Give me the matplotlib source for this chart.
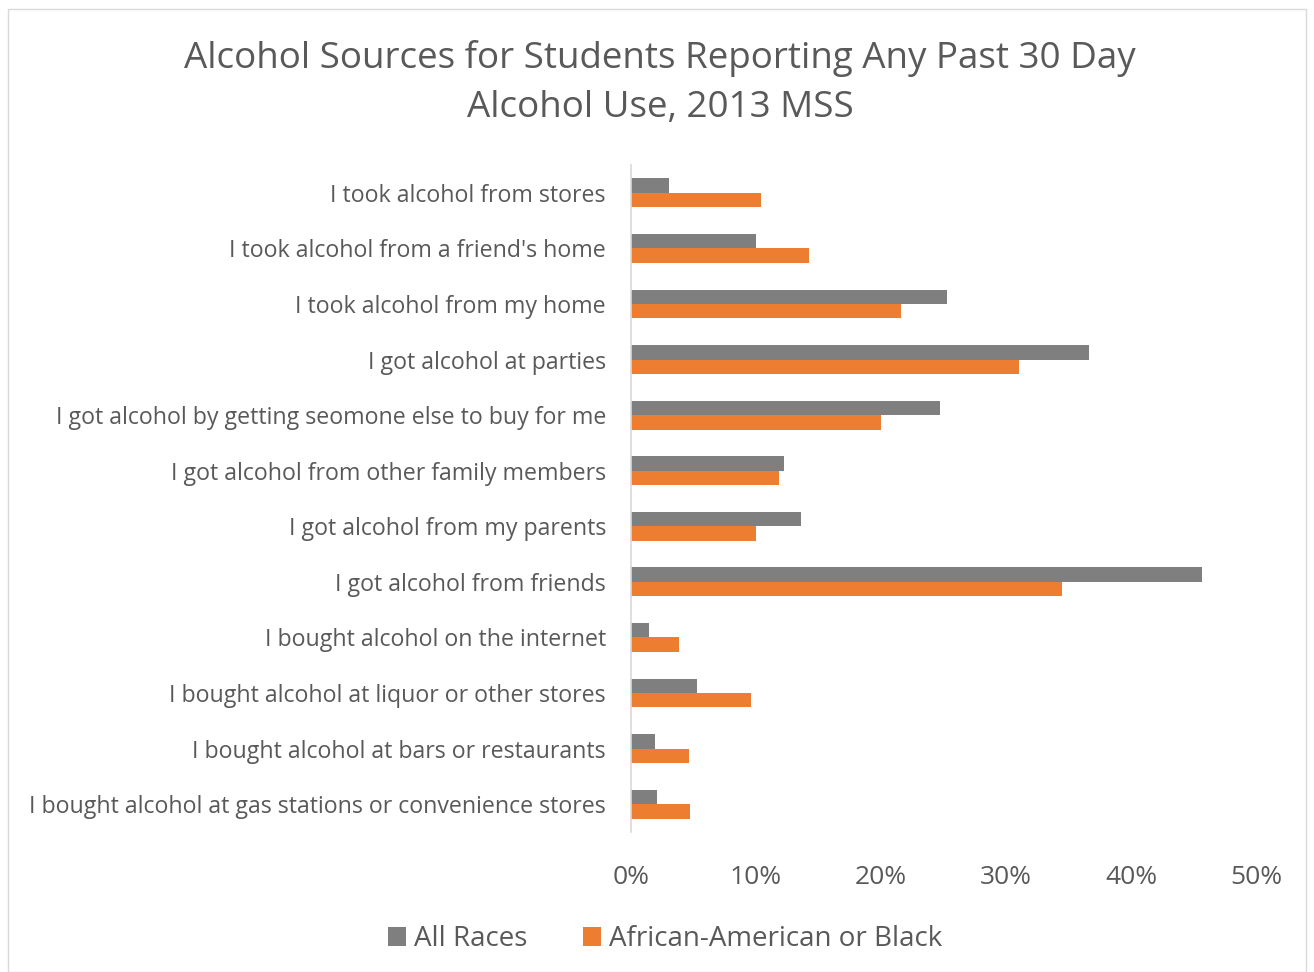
import matplotlib
matplotlib.use("Agg")
import matplotlib.pyplot as plt
import numpy as np
from matplotlib.ticker import FuncFormatter

categories = [
    "I took alcohol from stores",
    "I took alcohol from a friend's home",
    "I took alcohol from my home",
    "I got alcohol at parties",
    "I got alcohol by getting seomone else to buy for me",
    "I got alcohol from other family members",
    "I got alcohol from my parents",
    "I got alcohol from friends",
    "I bought alcohol on the internet",
    "I bought alcohol at liquor or other stores",
    "I bought alcohol at bars or restaurants",
    "I bought alcohol at gas stations or convenience stores",
]
all_races = [3.0, 10.0, 25.3, 36.6, 24.7, 12.2, 13.6, 45.7, 1.4, 5.3, 1.9, 2.1]
african_american = [10.4, 14.2, 21.6, 31.0, 20.0, 11.8, 10.0, 34.5, 3.8, 9.6, 4.6, 4.7]
series_names = ["All Races", "African-American or Black"]
x_ticks = [0, 10, 20, 30, 40, 50]

TXT = "#595959"
plt.rcParams['font.family'] = ['Open Sans', 'DejaVu Sans']

fig = plt.figure(figsize=(13.14, 9.72), dpi=100)
ax = fig.add_axes([631/1314, 1 - 832/972, (1256-631)/1314, (832-165)/972])

# border
fig.patches.append(plt.Rectangle((8/1314, 0), 1298/1314, 1 - 9/972, transform=fig.transFigure,
                                 fill=False, edgecolor="#D9D9D9", linewidth=1.0))

y = np.arange(len(categories))
h = 0.26
ax.barh(y - h/2, all_races, height=h, color="#7F7F7F", label=series_names[0])
ax.barh(y + h/2, african_american, height=h, color="#ED7D31", label=series_names[1])

ax.set_ylim(len(categories) - 0.5, -0.5)
ax.set_xlim(0, 50)
ax.set_yticks(y)
ax.set_yticklabels(categories, fontsize=16.7, color=TXT)
ax.set_xticks(x_ticks)
ax.xaxis.set_major_formatter(FuncFormatter(lambda v, p: f"{int(v)}%"))
ax.tick_params(axis='x', labelsize=19, colors=TXT, length=0, pad=24)
ax.tick_params(axis='y', length=0, pad=18)
for s in ["top", "right", "bottom"]:
    ax.spines[s].set_visible(False)
ax.spines["left"].set_color("#D9D9D9")
ax.spines["left"].set_linewidth(1.2)

fig.text(660/1314, 1 - 83/972, "Alcohol Sources for Students Reporting Any Past 30 Day\nAlcohol Use, 2013 MSS",
         ha="center", va="center", fontsize=26.5, color=TXT, linespacing=1.45)

fig.legend(loc="center", bbox_to_anchor=(665/1314, 1 - 939/972), ncol=2, frameon=False,
           fontsize=20, labelcolor=TXT, handlelength=0.65, handleheight=0.65,
           handletextpad=0.3, columnspacing=2.0)

fig.savefig("out.png", dpi=100, facecolor="white")
